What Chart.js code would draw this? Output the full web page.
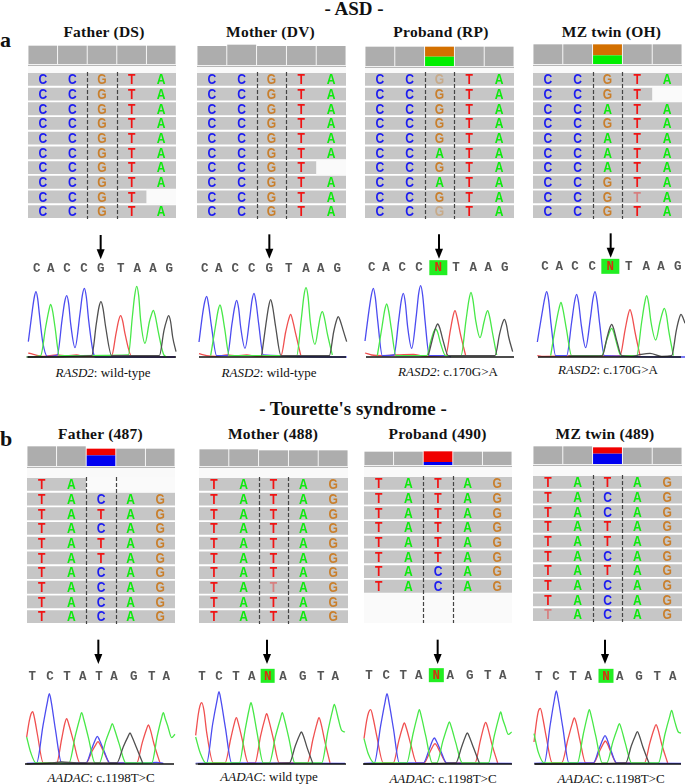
<!DOCTYPE html>
<html>
<head>
<meta charset="utf-8">
<script src="https://cdn.jsdelivr.net/npm/chart.js@4"></script>
<style>
    html, body { margin: 0; background: #fff; width: 685px; height: 784px; overflow: hidden; }
    canvas { position: absolute; filter: blur(0.35px); }
    .t { position: absolute; transform: translate(-50%, -50%); white-space: nowrap; color: #111; font-family: "Liberation Serif", serif; }
    .head { font-weight: bold; font-size: 15.5px; letter-spacing: 0.25px; }
    .big { font-weight: bold; font-size: 19px; }
    .tag { font-weight: bold; font-size: 22px; }
    .cap { font-size: 13px; }
    .strip { position: absolute; background: #f9f9f9; }
</style>
</head>
<body>
<script>
// reads per panel: one string per row, lower case = low quality base
var dsReads = ['CCGTA','CCGTA','CCGTA','CCGTA','CCGTA','CCGTA','CCGTA','CCGTA','CCGT','CCGTA'];
var dvReads = ['CCGTA','CCGTA','CCGTA','CCGTA','CCGTA','CCGTA','CCGT','CCGTA','CCGTA','CCGTA'];
var rpReads = ['CCgTA','CCGTA','CCGTA','CCGTA','CCGTA','CCATA','CCGTA','CCATA','CCGTA','CCgTA'];
var ohReads = ['CCGTA','CCGT','CCATA','CCGTA','CCATA','CCATA','CCATA','CCGTA','CCGtA','CCGTA'];
var f487Reads = ['TA','TACAG','TATAG','TACAG','TATAG','TATAG','TACAG','TACAG','TACAG','TACAG'];
var m488Reads = ['TATAG','TATAG','TATAG','TATAG','TATAG','TATAG','TATAG','TAtAG','TATAG','TATAG'];
var p490Reads = ['TATAG','TATAG','TATAG','TATAG','TATAG','TATAG','TACAG','TACAG','',''];
var t489Reads = ['TATAG','TACAG','TACAG','TATAG','TATAG','TACAG','TATAG','TACAG','TACAG','tACAG'];

// coverage track, five columns: reference depth, then lower and upper allele at the variant
var dsDepth = [55,55,55,55,55];    var dsLow = [0,0,0,0,0];    var dsHigh = [0,0,0,0,0];
var dvDepth = [57,61,57,57,57];    var dvLow = [0,0,0,0,0];    var dvHigh = [0,0,0,0,0];
var rpDepth = [58,58,0,58,58];     var rpLow = [0,0,28,0,0];   var rpHigh = [0,0,30,0,0];
var ohDepth = [59,59,0,59,59];     var ohLow = [0,0,26,0,0];   var ohHigh = [0,0,33,0,0];
var f487Depth = [59,59,0,52,52];   var f487Low = [0,0,32,0,0]; var f487High = [0,0,20,0,0];
var m488Depth = [50,50,47,47,47];  var m488Low = [0,0,0,0,0];  var m488High = [0,0,0,0,0];
var p490Depth = [40,40,0,40,40];   var p490Low = [0,0,9,0,0];  var p490High = [0,0,32,0,0];
var t489Depth = [53,53,0,49,49];   var t489Low = [0,0,31,0,0]; var t489High = [0,0,19,0,0];

// base calls and where they sit along the trace
var dsBases = 'CACCGTAAG'; var dsBaseX = [110,152,201,252,302,362,412,459,508];
var dvBases = 'CACCGTAAG'; var dvBaseX = [614,656,706,755,808,866,918,962,1012];
var rpBases = 'CACCNTAAG'; var rpBaseX = [80,123,172,222,280,333,385,430,479];
var ohBases = 'CACCNTAAG'; var ohBaseX = [600,643,690,742,796,851,904,948,998];
var f487Bases = 'TCTATAGTA'; var f487BaseX = [97,150,201,248,297,342,401,455,499];
var m488Bases = 'TCTANAGTA'; var m488BaseX = [606,657,708,755,803,849,908,962,1006];
var p490Bases = 'TCTANAGTA'; var p490BaseX = [72,124,175,221,274,316,374,428,473];
var t489Bases = 'TCTANAGTA'; var t489BaseX = [581,633,684,730,783,824,882,937,983];

// chromatogram traces [scan, signal]
var dsA = [[80,0],[122,4],[137,90],[146,137],[152,158],[158,137],[165,90],[178,4],[385,6],[397,120],[404,184],[410,212],[416,184],[422,110],[435,41],[448,105],[454,126],[460,140],[466,122],[474,80],[490,10],[500,0]];
var dsC = [[85,46],[97,140],[103,180],[108,196],[113,175],[118,130],[128,46],[142,2],[172,6],[186,110],[194,165],[200,184],[206,160],[212,100],[225,28],[240,130],[247,185],[253,206],[259,180],[266,110],[280,12],[287,0],[525,0]];
var dsG = [[80,0],[275,4],[289,100],[297,150],[303,166],[309,146],[317,90],[335,4],[478,4],[492,80],[500,110],[506,124],[512,105],[518,60],[528,16]];
var dsT = [[85,12],[100,8],[130,2],[170,6],[200,4],[230,6],[250,2],[335,4],[348,70],[356,110],[362,124],[368,108],[375,70],[395,2],[525,0]];

var dvA = [[632,4],[646,90],[654,138],[660,156],[666,135],[674,85],[688,4],[890,4],[904,115],[912,185],[918,208],[924,182],[931,105],[945,38],[956,95],[961,122],[967,136],[973,118],[982,70],[997,6]];
var dvC = [[597,45],[608,130],[614,165],[620,182],[626,155],[634,95],[650,4],[682,4],[696,100],[704,150],[710,170],[716,145],[722,90],[735,26],[749,115],[756,170],[762,191],[768,165],[776,100],[790,6],[1040,0]];
var dvG = [[785,4],[798,100],[806,152],[812,172],[818,150],[827,90],[843,4],[988,4],[1001,75],[1009,108],[1015,121],[1021,108],[1028,85],[1040,46]];
var dvT = [[597,10],[620,4],[650,2],[680,6],[710,4],[740,6],[770,2],[843,4],[857,75],[866,113],[872,128],[878,110],[887,70],[903,2]];

var rpA = [[97,4],[111,90],[119,140],[125,159],[131,138],[139,85],[153,4],[245,4],[258,50],[266,75],[272,84],[278,74],[287,40],[302,4],[348,4],[363,110],[372,172],[378,194],[384,170],[392,110],[405,58],[417,105],[422,125],[428,139],[434,120],[442,75],[455,6]];
var rpC = [[60,48],[72,140],[79,185],[85,206],[91,178],[98,110],[112,4],[147,6],[161,110],[169,170],[175,191],[181,162],[188,90],[200,26],[214,125],[221,190],[227,214],[233,185],[240,110],[253,4],[310,4],[318,0]];
var rpG = [[250,4],[264,60],[272,88],[278,99],[284,88],[294,50],[310,4],[450,4],[464,70],[472,100],[478,113],[484,98],[491,60],[503,16]];
var rpT = [[60,12],[80,6],[110,4],[150,6],[205,8],[240,2],[302,4],[316,80],[324,122],[330,139],[336,120],[346,70],[362,4]];

var ohA = [[617,4],[632,95],[642,145],[648,164],[654,142],[664,85],[680,4],[770,4],[785,50],[794,76],[800,86],[806,75],[814,45],[828,4],[875,4],[890,105],[899,162],[905,184],[911,160],[918,105],[932,51],[945,105],[952,132],[958,146],[964,128],[971,80],[985,4]];
var ohC = [[577,45],[591,130],[599,175],[605,196],[611,170],[618,100],[632,4],[665,4],[680,105],[689,168],[695,188],[701,162],[709,95],[722,28],[736,115],[744,175],[750,196],[756,170],[764,100],[778,4],[1020,0]];
var ohG = [[670,3],[720,3],[772,4],[786,58],[794,86],[800,98],[806,85],[815,50],[830,4],[860,2],[888,8],[915,11],[950,2],[980,4],[994,80],[1002,114],[1008,128],[1014,118],[1020,101]];
var ohT = [[577,4],[590,2],[680,3],[770,3],[825,4],[840,80],[849,125],[855,142],[861,124],[870,75],[885,4]];

var f487A = [[80,81],[92,35],[108,3],[207,3],[226,85],[239,135],[245,154],[251,135],[265,80],[285,3],[298,3],[317,68],[331,106],[337,121],[343,106],[357,62],[378,3],[455,3],[472,85],[484,135],[490,154],[496,135],[503,115],[515,79],[525,89]];
var f487C = [[80,2],[110,3],[129,115],[142,185],[148,211],[154,185],[166,105],[185,3],[258,3],[275,45],[286,73],[292,83],[298,73],[311,42],[330,3],[440,3],[470,5],[490,2]];
var f487G = [[80,0],[150,3],[185,6],[230,3],[350,3],[370,52],[384,82],[390,93],[396,82],[409,50],[428,3]];
var f487T = [[80,81],[88,130],[93,150],[98,157],[104,135],[112,90],[130,3],[170,3],[185,75],[194,120],[200,136],[206,120],[220,70],[240,3],[258,3],[276,38],[288,59],[294,67],[300,59],[312,35],[330,3],[410,3],[427,65],[439,103],[445,117],[451,103],[462,60],[480,3]];

var m488A = [[587,81],[600,35],[618,3],[718,3],[735,100],[747,162],[753,184],[759,162],[771,95],[790,3],[808,3],[827,85],[841,135],[847,154],[853,135],[866,80],[885,3],[965,3],[984,100],[997,158],[1003,179],[1009,160],[1015,135],[1025,101],[1035,96]];
var m488C = [[587,2],[620,3],[638,120],[651,190],[657,217],[663,190],[676,110],[695,3],[1035,2]];
var m488G = [[587,0],[868,3],[886,55],[898,85],[904,96],[910,85],[921,50],[938,3]];
var m488T = [[587,86],[595,150],[600,175],[605,184],[612,160],[620,95],[640,3],[675,3],[692,75],[703,122],[709,139],[715,122],[727,72],[745,3],[765,3],[782,85],[794,133],[800,151],[806,133],[819,80],[838,3],[922,3],[939,75],[951,122],[957,139],[963,122],[974,70],[990,3]];

var p490A = [[57,76],[70,30],[88,3],[185,3],[204,90],[217,143],[223,163],[229,143],[242,85],[262,3],[275,3],[294,70],[307,111],[313,126],[319,111],[332,65],[352,3],[430,3],[448,85],[461,137],[467,156],[473,135],[480,115],[490,89],[500,96]];
var p490C = [[57,2],[88,3],[107,115],[120,185],[126,211],[132,185],[145,108],[163,3],[235,3],[252,42],[262,69],[268,78],[274,69],[287,40],[305,3],[500,2]];
var p490G = [[57,0],[332,3],[350,52],[361,82],[367,93],[373,82],[385,50],[403,3]];
var p490T = [[57,76],[65,130],[71,155],[77,163],[85,135],[95,85],[115,3],[145,3],[161,68],[172,108],[178,123],[184,108],[197,60],[215,3],[237,3],[253,32],[264,54],[270,61],[276,54],[288,30],[305,3],[390,3],[406,70],[416,110],[422,125],[428,110],[440,62],[458,3]];

var t489A = [[567,91],[580,35],[598,3],[697,3],[715,90],[727,143],[733,163],[739,143],[752,85],[772,3],[785,3],[804,68],[817,106],[823,121],[829,106],[841,62],[860,3],[940,3],[960,90],[974,142],[980,161],[986,140],[990,125],[1000,96],[1008,93]];
var t489C = [[567,2],[598,3],[616,120],[628,192],[634,219],[640,192],[653,112],[672,3],[745,3],[762,45],[774,75],[780,85],[786,75],[797,43],[815,3],[1008,2]];
var t489G = [[567,0],[842,3],[859,55],[871,85],[877,97],[883,85],[894,50],[912,3]];
var t489T = [[567,66],[575,130],[580,158],[586,167],[594,135],[603,85],[622,3],[650,3],[669,75],[682,122],[688,138],[694,122],[705,70],[722,3],[745,3],[763,37],[775,61],[781,69],[787,61],[798,35],[815,3],[898,3],[915,65],[927,104],[933,118],[939,104],[950,60],[968,3]];

var BASE_COLORS = { A: '#0eea0e', C: '#1c1cf0', G: '#c97f2c', T: '#f01414' };
var TRACE_COLORS = { A: '#48e848', C: '#4c4cf0', G: '#505050', T: '#f05050' };

var panels = [
    { title: 'Father (DS)', titleX: 104, titleY: 31.5, gene: 'RASD2', note: ': wild-type', capX: 103, capY: 373, reads: dsReads, depth: dsDepth, low: dsLow, high: dsHigh, lowCol: '#00ee00', highCol: '#d37000', left: 28, width: 148, covBottom: 64, readTop: 72, bases: dsBases, baseX: dsBaseX, A: dsA, C: dsC, G: dsG, T: dsT, chrLeft: 25, chrRight: 180, offset: 0, chrTop: 227, letterH: 266, arrowX: 302, arrowTop: 366, boxW: 0, boxH: 0 },
    { title: 'Mother (DV)', titleX: 270.5, titleY: 31.5, gene: 'RASD2', note: ': wild-type', capX: 269, capY: 373, reads: dvReads, depth: dvDepth, low: dvLow, high: dvHigh, lowCol: '#00ee00', highCol: '#d37000', left: 197, width: 149, covBottom: 65, readTop: 72, bases: dvBases, baseX: dvBaseX, A: dvA, C: dvC, G: dvG, T: dvT, chrLeft: 196, chrRight: 350, offset: 0, chrTop: 227, letterH: 266, arrowX: 808, arrowTop: 368, boxW: 0, boxH: 0 },
    { title: 'Proband (RP)', titleX: 441, titleY: 31.5, gene: 'RASD2', note: ': c.170G>A', capX: 448, capY: 372, reads: rpReads, depth: rpDepth, low: rpLow, high: rpHigh, lowCol: '#00ee00', highCol: '#d37000', left: 365, width: 149, covBottom: 66, readTop: 72, bases: rpBases, baseX: rpBaseX, A: rpA, C: rpC, G: rpG, T: rpT, chrLeft: 363, chrRight: 518, offset: 345, chrTop: 227, letterH: 268, arrowX: 282, arrowTop: 368, boxW: 18, boxH: 15 },
    { title: 'MZ twin (OH)', titleX: 611.5, titleY: 31.5, gene: 'RASD2', note: ': c.170G>A', capX: 608, capY: 370, reads: ohReads, depth: ohDepth, low: ohLow, high: ohHigh, lowCol: '#00ee00', highCol: '#d37000', left: 533, width: 149, covBottom: 64, readTop: 72, bases: ohBases, baseX: ohBaseX, A: ohA, C: ohC, G: ohG, T: ohT, chrLeft: 535, chrRight: 685, offset: 345, chrTop: 227, letterH: 272, arrowX: 797, arrowTop: 371, boxW: 18, boxH: 15 },
    { title: 'Father (487)', titleX: 100.5, titleY: 433.5, gene: 'AADAC', note: ': c.1198T>C', capX: 101, capY: 778, reads: f487Reads, depth: f487Depth, low: f487Low, high: f487High, lowCol: '#0000f0', highCol: '#f00000', left: 27, width: 148, covBottom: 466, readTop: 477, bases: f487Bases, baseX: f487BaseX, A: f487A, C: f487C, G: f487G, T: f487T, chrLeft: 22, chrRight: 178, offset: 0, chrTop: 634, letterH: 263, arrowX: 295, arrowTop: 373, boxW: 0, boxH: 0 },
    { title: 'Mother (488)', titleX: 273, titleY: 433.5, gene: 'AADAC', note: ': wild type', capX: 269, capY: 777, reads: m488Reads, depth: m488Depth, low: m488Low, high: m488High, lowCol: '#0000f0', highCol: '#f00000', left: 199, width: 149, covBottom: 466, readTop: 477, bases: m488Bases, baseX: m488BaseX, A: m488A, C: m488C, G: m488G, T: m488T, chrLeft: 195, chrRight: 350, offset: 0, chrTop: 634, letterH: 263, arrowX: 801, arrowTop: 373, boxW: 14, boxH: 14 },
    { title: 'Proband (490)', titleX: 437.5, titleY: 433.5, gene: 'AADAC', note: ': c.1198T>C', capX: 443, capY: 779, reads: p490Reads, depth: p490Depth, low: p490Low, high: p490High, lowCol: '#0000f0', highCol: '#f00000', left: 364, width: 148, covBottom: 465, readTop: 476, bases: p490Bases, baseX: p490BaseX, A: p490A, C: p490C, G: p490G, T: p490T, chrLeft: 360, chrRight: 516, offset: 345, chrTop: 634, letterH: 265, arrowX: 278, arrowTop: 373, boxW: 15, boxH: 14 },
    { title: 'MZ twin (489)', titleX: 605, titleY: 434, gene: 'AADAC', note: ': c.1198T>C', capX: 611, capY: 779, reads: t489Reads, depth: t489Depth, low: t489Low, high: t489High, lowCol: '#0000f0', highCol: '#f00000', left: 533, width: 149, covBottom: 464, readTop: 475, bases: t489Bases, baseX: t489BaseX, A: t489A, C: t489C, G: t489G, T: t489T, chrLeft: 532, chrRight: 685, offset: 345, chrTop: 634, letterH: 263, arrowX: 780, arrowTop: 373, boxW: 15, boxH: 14 }
];

var addText = function (cls, html, x, y) {
    var el = document.createElement('div');
    el.className = 't ' + cls;
    el.innerHTML = html;
    el.style.left = x + 'px';
    el.style.top = y + 'px';
    document.body.appendChild(el);
};

var addCanvas = function (left, top, width, height) {
    var c = document.createElement('canvas');
    c.width = width;
    c.height = height;
    c.style.left = left + 'px';
    c.style.top = top + 'px';
    c.style.width = width + 'px';
    c.style.height = height + 'px';
    document.body.appendChild(c);
    return c;
};

var baseOptions = function (scales) {
    return {
        responsive: false,
        animation: false,
        events: [],
        layout: { padding: 0 },
        plugins: { legend: { display: false }, tooltip: { enabled: false }, title: { display: false } },
        scales: scales
    };
};

// coverage track
var drawCoverage = function (p) {
    new Chart(addCanvas(p.left, p.covBottom - 21, p.width, 23), {
        type: 'bar',
        data: {
            labels: ['1', '2', '3', '4', '5'],
            datasets: [
                { data: p.depth, backgroundColor: '#adadad', stack: 's' },
                { data: p.low, backgroundColor: p.lowCol, stack: 's' },
                { data: p.high, backgroundColor: p.highCol, stack: 's' }
            ]
        },
        options: Object.assign(baseOptions({
            x: { display: false, stacked: true },
            y: { display: false, stacked: true, min: -6, max: 63 }
        }), { datasets: { bar: { categoryPercentage: 1, barPercentage: 0.97 } } }),
        plugins: [{
            id: 'covLine',
            afterDatasetsDraw: function (chart) {
                var c = chart.ctx, y = chart.scales.y.getPixelForValue(-4);
                c.save();
                c.strokeStyle = '#aaaaaa';
                c.beginPath();
                c.moveTo(chart.chartArea.left, y);
                c.lineTo(chart.chartArea.right, y);
                c.stroke();
                c.restore();
            }
        }]
    });
};

// read pile-up
var drawReads = function (p) {
    var covered = p.reads.map(function (r) { return r.length; });
    var missing = p.reads.map(function (r) { return 5 - r.length; });
    new Chart(addCanvas(p.left, p.readTop, p.width, 147), {
        type: 'bar',
        data: {
            labels: p.reads.map(function (r, i) { return 'read ' + (i + 1); }),
            datasets: [
                { data: covered, backgroundColor: '#c6c6c6', stack: 's', categoryPercentage: 1, barPercentage: 0.87 },
                { data: missing, backgroundColor: '#fafafa', stack: 's', categoryPercentage: 1, barPercentage: 1 }
            ]
        },
        options: Object.assign(baseOptions({
            x: { display: false, stacked: true, min: 0, max: 5 },
            y: { display: false, stacked: true }
        }), { indexAxis: 'y' }),
        plugins: [{
            id: 'readLetters',
            afterDatasetsDraw: function (chart) {
                var c = chart.ctx, x = chart.scales.x, y = chart.scales.y;
                c.save();
                c.textAlign = 'center';
                c.textBaseline = 'middle';
                c.font = 'bold 15.5px "Liberation Sans", sans-serif';
                p.reads.forEach(function (read, row) {
                    read.split('').forEach(function (ch, col) {
                        var up = ch.toUpperCase();
                        c.save();
                        c.translate(x.getPixelForValue(col + 0.5), y.getPixelForValue(row) + 0.5);
                        c.scale(0.78, 1);
                        c.globalAlpha = ch === up ? 1 : 0.4;
                        c.fillStyle = BASE_COLORS[up];
                        c.fillText(up, 0, 0);
                        c.restore();
                    });
                });
                c.strokeStyle = '#444';
                c.lineWidth = 1.2;
                c.setLineDash([4, 2]);
                [2, 3].forEach(function (col) {
                    var px = Math.round(x.getPixelForValue(col)) + 0.5;
                    c.beginPath();
                    c.moveTo(px, chart.chartArea.top);
                    c.lineTo(px, chart.chartArea.bottom);
                    c.stroke();
                });
                c.restore();
            }
        }]
    });
};

// chromatogram with base calls and arrow above it
var drawTrace = function (p) {
    var line = function (key) {
        return { data: p[key], borderColor: TRACE_COLORS[key], borderWidth: 1.3, showLine: true, pointRadius: 0, cubicInterpolationMode: 'monotone' };
    };
    var xMin = (p.chrLeft - p.offset) * 3;
    var xMax = (p.chrRight - p.offset) * 3;
    var baseline = { data: [[xMin + 9, 0], [xMax - 12, 0]], borderColor: '#111', borderWidth: 1.4, showLine: true, pointRadius: 0 };
    new Chart(addCanvas(p.chrLeft, p.chrTop, p.chrRight - p.chrLeft, 132), {
        type: 'scatter',
        data: { datasets: [baseline, line('G'), line('A'), line('C'), line('T')] },
        options: baseOptions({
            x: { display: false, type: 'linear', min: xMin, max: xMax },
            y: { display: false, min: -6, max: 390 }
        }),
        plugins: [{
            id: 'baseCalls',
            afterDatasetsDraw: function (chart) {
                var c = chart.ctx, x = chart.scales.x, y = chart.scales.y;
                c.save();
                c.textAlign = 'center';
                c.textBaseline = 'middle';
                c.font = 'bold 12.5px "Liberation Mono", monospace';
                p.bases.split('').forEach(function (ch, i) {
                    var px = x.getPixelForValue(p.baseX[i]), py = y.getPixelForValue(p.letterH);
                    if (ch === 'N') {
                        c.fillStyle = '#22ee22';
                        c.fillRect(px - p.boxW / 2, py - 7.5, p.boxW, p.boxH);
                        c.fillStyle = '#d83010';
                    } else {
                        c.fillStyle = '#555';
                    }
                    c.fillText(ch, px, py + 0.5);
                });
                var ax = x.getPixelForValue(p.arrowX);
                var top = y.getPixelForValue(p.arrowTop), tip = y.getPixelForValue(p.arrowTop - 73);
                c.strokeStyle = '#000';
                c.lineWidth = 2;
                c.beginPath();
                c.moveTo(ax, top);
                c.lineTo(ax, tip - 6);
                c.stroke();
                c.fillStyle = '#000';
                c.beginPath();
                c.moveTo(ax - 4, tip - 10);
                c.lineTo(ax + 4, tip - 10);
                c.lineTo(ax, tip);
                c.closePath();
                c.fill();
                c.restore();
            }
        }]
    });
};

addText('big', '- ASD -', 354, 8.5);
addText('big', "- Tourette's syndrome -", 353, 408.5);
addText('tag', 'a', 5.5, 40);
addText('tag', 'b', 6, 439);

panels.forEach(function (p) {
    var strip = document.createElement('div');
    strip.className = 'strip';
    strip.style.left = p.left + 'px';
    strip.style.width = p.width + 'px';
    strip.style.top = (p.covBottom + 1) + 'px';
    strip.style.height = (p.readTop - p.covBottom) + 'px';
    document.body.appendChild(strip);

    addText('head', p.title, p.titleX, p.titleY);
    addText('cap', '<i>' + p.gene + '</i>' + p.note.replace('>', '&gt;'), p.capX, p.capY);
    drawCoverage(p);
    drawReads(p);
    drawTrace(p);
});
</script>
</body>
</html>
